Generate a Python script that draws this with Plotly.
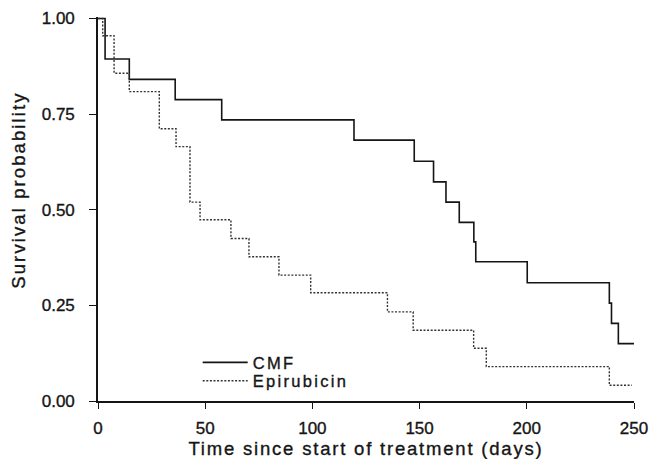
import plotly.graph_objects as go

# ---- data ----
cmf_days = [0, 3.3, 14.6, 36.0, 57.7, 119.4, 147.5, 156.5, 162.3, 168.5, 175.3, 176.2, 200.2, 238.5, 239.5, 242.7, 250]
cmf_surv = [1.0, 0.894, 0.841, 0.788, 0.735, 0.682, 0.627, 0.573, 0.520, 0.467, 0.416, 0.364, 0.309, 0.256, 0.203, 0.150, 0.150]

epi_days = [0, 2.2, 7.5, 14.6, 28.6, 36.4, 42.9, 47.6, 62.0, 70.4, 84.4, 99.2, 135.0, 147.0, 175.2, 181.1, 238.5, 249]
epi_surv = [1.0, 0.955, 0.857, 0.809, 0.712, 0.665, 0.520, 0.474, 0.425, 0.377, 0.329, 0.283, 0.233, 0.185, 0.138, 0.090, 0.041, 0.041]

x_ticks = [0, 50, 100, 150, 200, 250]
y_ticks = [0.0, 0.25, 0.50, 0.75, 1.00]
y_tick_labels = ["0.00", "0.25", "0.50", "0.75", "1.00"]

FONT = "Liberation Sans, Arial, Helvetica, sans-serif"
INK = "#151515"

def styled(s, spacing=0.0):
    return (f'<span style="letter-spacing:{spacing}px;stroke:{INK};'
            f'stroke-width:0.35px">{s}</span>')

fig = go.Figure()
fig.add_trace(go.Scatter(
    x=cmf_days, y=cmf_surv, mode="lines", line_shape="hv",
    line=dict(color=INK, width=1.6),
    name=styled("CMF", 2.3), legend="legend",
))
fig.add_trace(go.Scatter(
    x=epi_days, y=epi_surv, mode="lines", line_shape="hv",
    line=dict(color="#333333", width=1.4, dash="2px,1.6px"),
    name=styled("Epirubicin", 2.3), legend="legend2",
))

legend_common = dict(
    font=dict(family=FONT, size=16.5, color=INK),
    bgcolor="rgba(0,0,0,0)", borderwidth=0,
    xanchor="left", yanchor="middle", itemwidth=45,
    tracegroupgap=0,
)

fig.update_layout(
    template="none",
    width=653, height=459,
    margin=dict(l=98, r=19, t=16.5, b=58, autoexpand=False),
    paper_bgcolor="white", plot_bgcolor="white",
    showlegend=True,
    legend=dict(x=0.186, y=0.100, **legend_common),
    legend2=dict(x=0.186, y=0.052, **legend_common),
    font=dict(family=FONT, color=INK),
    xaxis=dict(
        range=[0, 250], tickvals=x_ticks, ticktext=[styled(str(v)) for v in x_ticks],
        showgrid=False, zeroline=False, showline=True, linecolor=INK, linewidth=1.6,
        ticks="outside", ticklen=6, tickwidth=1.4, tickcolor=INK, automargin=False,
        tickfont=dict(family=FONT, size=17, color=INK),
        ticklabelstandoff=5,
        title=dict(text=styled("Time since start of treatment (days)", 1.8),
                   font=dict(family=FONT, size=18.5, color=INK), standoff=7),
    ),
    yaxis=dict(
        range=[0, 1.004], tickvals=y_ticks, ticktext=[styled(t) for t in y_tick_labels],
        showgrid=False, zeroline=False, showline=True, linecolor=INK, linewidth=1.6,
        ticks="outside", ticklen=7, tickwidth=1.4, tickcolor=INK, automargin=False,
        tickfont=dict(family=FONT, size=17, color=INK),
        ticklabelstandoff=11,
    ),
    annotations=[dict(
        text=styled("Survival probability", 2.1), textangle=-90,
        xref="paper", yref="paper", x=-0.149, y=0.548,
        xanchor="center", yanchor="middle", showarrow=False,
        font=dict(family=FONT, size=18.5, color=INK),
    )],
)

fig.write_html("out.html")
